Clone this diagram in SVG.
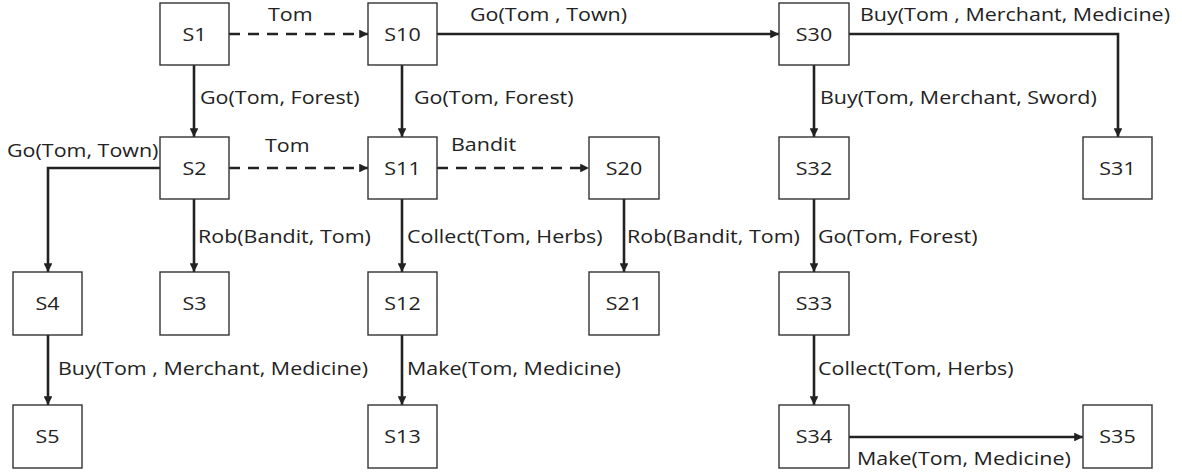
<svg xmlns="http://www.w3.org/2000/svg" width="1182" height="475" viewBox="0 0 1182 475">
<style>
.box{fill:#fff;stroke:#333;stroke-width:1.4}
.nt{font-family:"Open Sans","Liberation Sans",sans-serif;font-size:19px;fill:#222;text-anchor:middle}
.lb{font-family:"Open Sans","Liberation Sans",sans-serif;font-size:19px;fill:#222}
.e{fill:none;stroke:#222;stroke-width:2.6;marker-end:url(#ah)}
.d{stroke-dasharray:11 8}
</style>
<defs>
<marker id="ah" viewBox="0 0 10 10" refX="10" refY="5" markerWidth="3.4" markerHeight="3.4" orient="auto" markerUnits="strokeWidth">
<path d="M0,0 L10,5 L0,10 z" fill="#222"/>
</marker>
</defs>
<g id="connectors">
<path class="e d" d="M229,34 H368"/>
<path class="e" d="M437,34 H779"/>
<path class="e" d="M849,34 H1118 V137"/>
<path class="e" d="M194,65 V137"/>
<path class="e" d="M402,65 V137"/>
<path class="e" d="M814,65 V137"/>
<path class="e" d="M160,168 H48 V272"/>
<path class="e d" d="M229,168 H368"/>
<path class="e d" d="M437,168 H589"/>
<path class="e" d="M194,199 V272"/>
<path class="e" d="M402,199 V272"/>
<path class="e" d="M624,199 V272"/>
<path class="e" d="M814,199 V272"/>
<path class="e" d="M48,335 V405"/>
<path class="e" d="M402,335 V405"/>
<path class="e" d="M814,335 V405"/>
<path class="e" d="M849,437 H1083"/>
</g>
<g id="labels">
<text class="lb" transform="translate(268,21) scale(1.13,1)">Tom</text>
<text class="lb" transform="translate(200,104) scale(1.13,1)">Go(Tom, Forest)</text>
<text class="lb" transform="translate(7,157) scale(1.13,1)">Go(Tom, Town)</text>
<text class="lb" transform="translate(265,152) scale(1.13,1)">Tom</text>
<text class="lb" transform="translate(470,21) scale(1.13,1)">Go(Tom , Town)</text>
<text class="lb" transform="translate(414,104) scale(1.13,1)">Go(Tom, Forest)</text>
<text class="lb" transform="translate(451,151) scale(1.13,1)">Bandit</text>
<text class="lb" transform="translate(860,21) scale(1.13,1)">Buy(Tom , Merchant, Medicine)</text>
<text class="lb" transform="translate(820,104) scale(1.13,1)">Buy(Tom, Merchant, Sword)</text>
<text class="lb" transform="translate(198,243) scale(1.13,1)">Rob(Bandit, Tom)</text>
<text class="lb" transform="translate(407,243) scale(1.13,1)">Collect(Tom, Herbs)</text>
<text class="lb" transform="translate(627,243) scale(1.13,1)">Rob(Bandit, Tom)</text>
<text class="lb" transform="translate(818,243) scale(1.13,1)">Go(Tom, Forest)</text>
<text class="lb" transform="translate(58,375) scale(1.13,1)">Buy(Tom , Merchant, Medicine)</text>
<text class="lb" transform="translate(407,375) scale(1.13,1)">Make(Tom, Medicine)</text>
<text class="lb" transform="translate(818,375) scale(1.13,1)">Collect(Tom, Herbs)</text>
<text class="lb" transform="translate(857,465) scale(1.13,1)">Make(Tom, Medicine)</text>
</g>
<g id="S1"><rect class="box" x="160" y="3" width="69" height="62"/><text class="nt" transform="translate(194.5,41) scale(1.13,1)">S1</text></g>
<g id="S10"><rect class="box" x="368" y="3" width="69" height="62"/><text class="nt" transform="translate(402.5,41) scale(1.13,1)">S10</text></g>
<g id="S30"><rect class="box" x="779" y="3" width="70" height="62"/><text class="nt" transform="translate(814,41) scale(1.13,1)">S30</text></g>
<g id="S2"><rect class="box" x="160" y="137" width="69" height="62"/><text class="nt" transform="translate(194.5,175) scale(1.13,1)">S2</text></g>
<g id="S11"><rect class="box" x="368" y="137" width="69" height="62"/><text class="nt" transform="translate(402.5,175) scale(1.13,1)">S11</text></g>
<g id="S20"><rect class="box" x="589" y="137" width="70" height="62"/><text class="nt" transform="translate(624,175) scale(1.13,1)">S20</text></g>
<g id="S32"><rect class="box" x="779" y="137" width="70" height="62"/><text class="nt" transform="translate(814,175) scale(1.13,1)">S32</text></g>
<g id="S31"><rect class="box" x="1083" y="137" width="69" height="62"/><text class="nt" transform="translate(1117.5,175) scale(1.13,1)">S31</text></g>
<g id="S4"><rect class="box" x="13" y="272" width="69" height="63"/><text class="nt" transform="translate(47.5,310) scale(1.13,1)">S4</text></g>
<g id="S3"><rect class="box" x="160" y="272" width="69" height="63"/><text class="nt" transform="translate(194.5,310) scale(1.13,1)">S3</text></g>
<g id="S12"><rect class="box" x="368" y="272" width="69" height="63"/><text class="nt" transform="translate(402.5,310) scale(1.13,1)">S12</text></g>
<g id="S21"><rect class="box" x="589" y="272" width="70" height="63"/><text class="nt" transform="translate(624,310) scale(1.13,1)">S21</text></g>
<g id="S33"><rect class="box" x="779" y="272" width="70" height="63"/><text class="nt" transform="translate(814,310) scale(1.13,1)">S33</text></g>
<g id="S5"><rect class="box" x="13" y="405" width="69" height="63"/><text class="nt" transform="translate(47.5,443) scale(1.13,1)">S5</text></g>
<g id="S13"><rect class="box" x="368" y="405" width="69" height="63"/><text class="nt" transform="translate(402.5,443) scale(1.13,1)">S13</text></g>
<g id="S34"><rect class="box" x="779" y="405" width="70" height="63"/><text class="nt" transform="translate(814,443) scale(1.13,1)">S34</text></g>
<g id="S35"><rect class="box" x="1083" y="405" width="69" height="63"/><text class="nt" transform="translate(1117.5,443) scale(1.13,1)">S35</text></g>
</svg>
